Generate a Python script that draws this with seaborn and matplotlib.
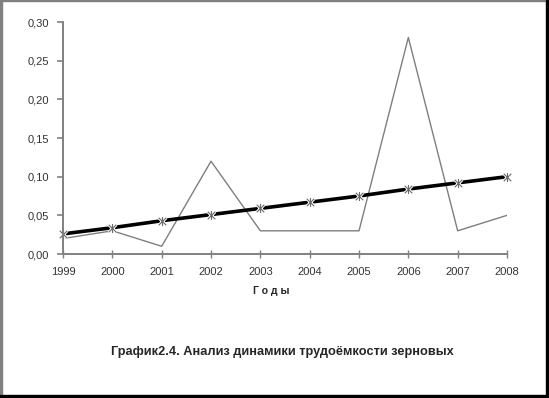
import numpy as np
import matplotlib.pyplot as plt
import seaborn as sns
from matplotlib.path import Path
from matplotlib.patches import Rectangle

# data
years = [1999, 2000, 2001, 2002, 2003, 2004, 2005, 2006, 2007, 2008]
labour = [0.02, 0.03, 0.01, 0.12, 0.03, 0.03, 0.03, 0.28, 0.03, 0.05]
trend = [0.026, 0.034, 0.043, 0.051, 0.059, 0.067, 0.075, 0.084, 0.092, 0.100]
yticks = [0.00, 0.05, 0.10, 0.15, 0.20, 0.25, 0.30]
ytick_labels = ["0,00", "0,05", "0,10", "0,15", "0,20", "0,25", "0,30"]

sns.set_style("white")
plt.rcParams['font.family'] = ['Liberation Sans', 'DejaVu Sans']

fig = plt.figure(figsize=(5.49, 3.98), dpi=100, facecolor="white")
ax = fig.add_axes([0.1148, 0.3618, 0.8087, 0.5829])

# star marker like the excel one: X with a vertical bar
star = Path([(-1, -1), (1, 1), (-1, 1), (1, -1), (0, -1.2), (0, 1.2)],
            [Path.MOVETO, Path.LINETO, Path.MOVETO, Path.LINETO, Path.MOVETO, Path.LINETO])

sns.lineplot(x=years, y=labour, ax=ax, color="#7f7f7f", linewidth=1.0)
sns.lineplot(x=years, y=trend, ax=ax, color="black", linewidth=2.6)
ax.plot(years, trend, linestyle="none", marker=star, markersize=6.5,
        markerfacecolor="none", markeredgecolor="white", markeredgewidth=2.2, clip_on=False)
ax.plot(years, trend, linestyle="none", marker=star, markersize=6.5,
        markerfacecolor="none", markeredgecolor="#6a6a6a", markeredgewidth=0.8, clip_on=False)

ax.set_xlim(1999, 2008)
ax.set_ylim(0, 0.30)
ax.set_xticks(years)
ax.set_xticklabels([str(y) for y in years])
ax.set_yticks(yticks)
ax.set_yticklabels(ytick_labels)

for side in ["top", "right"]:
    ax.spines[side].set_visible(False)
for side in ["left", "bottom"]:
    ax.spines[side].set_color("#808080")
    ax.spines[side].set_linewidth(1.4)

ax.tick_params(axis="y", which="both", direction="out", length=4, width=1.2,
               color="#808080", labelsize=8, labelcolor="#333333", pad=6, left=True)
ax.tick_params(axis="x", which="both", direction="inout", length=6, width=1.0,
               color="#808080", labelsize=8, labelcolor="#333333", pad=6, bottom=True)

ax.set_xlabel("Г о д ы", fontsize=7.5, fontweight="bold")
ax.xaxis.set_label_coords(0.47, -0.14)

fig.text(0.514, 0.115, "График2.4. Анализ динамики трудоёмкости зерновых",
         ha="center", va="center", fontsize=9.2, fontweight="bold")

# frame around the picture
fig.patches.append(Rectangle((0, 0), 0.004, 1, transform=fig.transFigure, color="#808080"))
fig.patches.append(Rectangle((0, 0.9975), 1, 0.0025, transform=fig.transFigure, color="#808080"))
fig.patches.append(Rectangle((0.9945, 0), 0.0055, 1, transform=fig.transFigure, color="black"))
fig.patches.append(Rectangle((0, 0), 1, 0.0065, transform=fig.transFigure, color="black"))

fig.savefig("out.png", dpi=100, facecolor="white")
